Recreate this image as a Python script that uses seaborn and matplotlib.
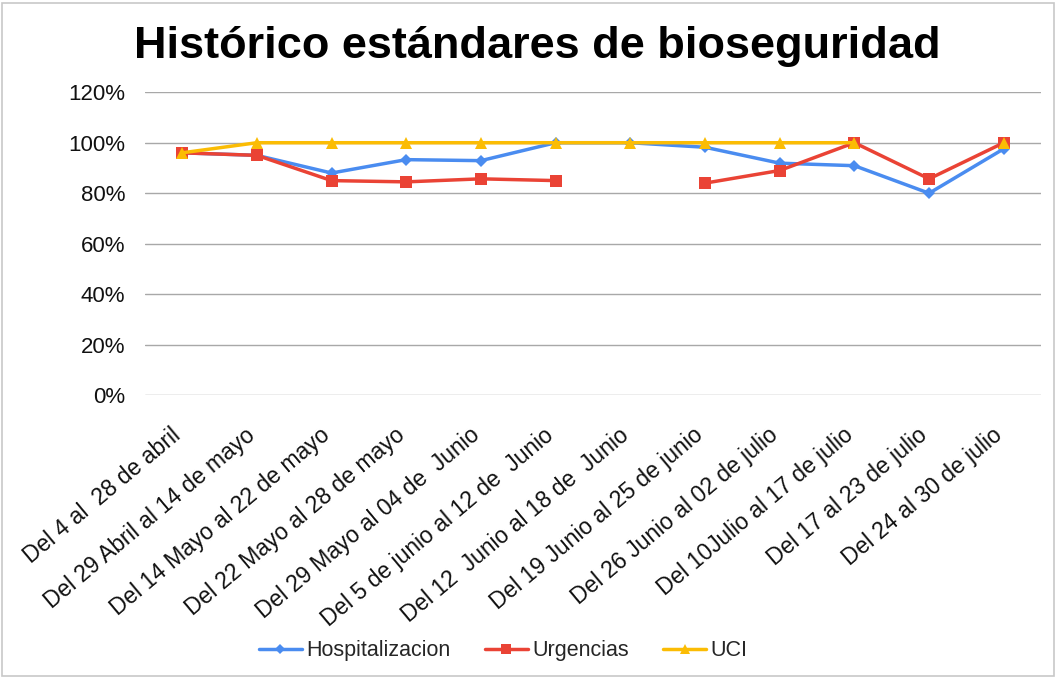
import numpy as np
import pandas as pd
import matplotlib
matplotlib.use("Agg")
import matplotlib.pyplot as plt
from matplotlib.patches import Rectangle
from matplotlib.lines import Line2D
from matplotlib.ticker import PercentFormatter
from matplotlib.transforms import ScaledTranslation
import seaborn as sns

categories = [
    "Del 4 al  28 de abril",
    "Del 29 Abril al 14 de mayo",
    "Del 14 Mayo al 22 de mayo",
    "Del 22 Mayo al 28 de mayo",
    "Del 29 Mayo al 04 de  Junio",
    "Del 5 de junio al 12 de  Junio",
    "Del 12  Junio al 18 de  Junio",
    "Del 19 Junio al 25 de junio",
    "Del 26 Junio al 02 de julio",
    "Del 10Julio al 17 de julio",
    "Del 17 al 23 de julio",
    "Del 24 al 30 de julio",
]
hospitalizacion = [96, 95, 88, 93.3, 92.9, 100, 100, 98.2, 91.9, 90.9, 80, 97.6]
urgencias = [96, 95, 85, 84.5, 85.7, 85, np.nan, 84, 89, 100, 85.7, 100]
uci = [96, 100, 100, 100, 100, 100, 100, 100, 100, 100, np.nan, 100]
yticks = [0, 20, 40, 60, 80, 100, 120]

sns.set_theme(style="white")
plt.rcParams["font.family"] = ["Liberation Sans", "DejaVu Sans"]

fig = plt.figure(figsize=(10.57, 6.78), dpi=100)
ax = fig.add_axes([0.137, 0.417, 0.848, 0.447])

series = [
    ("Hospitalizacion", hospitalizacion, "#4A8CF0", "D", 6),
    ("Urgencias", urgencias, "#EA4335", "s", 9),
    ("UCI", uci, "#FBBC04", "^", 9),
]
x = np.arange(len(categories))
handles = []
for name, vals, col, mk, ms in series:
    vals = np.asarray(vals, dtype=float)
    # split into segments at missing values so the line shows gaps
    seg = np.cumsum(np.isnan(vals))
    df = pd.DataFrame({"x": x, "y": vals, "seg": seg}).dropna()
    sns.lineplot(data=df, x="x", y="y", units="seg", estimator=None, ax=ax,
                 color=col, marker=mk, markersize=ms, markeredgewidth=0,
                 linewidth=2.5, legend=False)
    handles.append(Line2D([], [], color=col, marker=mk, markersize=ms * 0.8,
                          markeredgewidth=0, linewidth=2.5, label=name))

ax.set_xlim(-0.5, len(categories) - 0.5)
ax.set_ylim(0, 120)
ax.set_yticks(yticks)
ax.yaxis.set_major_formatter(PercentFormatter(decimals=0))
ax.set_xticks(x)
ax.set_xticklabels(categories, rotation=40, ha="right", rotation_mode="anchor",
                   fontsize=16.5, color="#111111")
ax.tick_params(axis="y", labelsize=16, pad=14, length=0, labelcolor="#111111")
ax.tick_params(axis="x", pad=16, length=0)
shift = ScaledTranslation(-12 / 100, -6 / 100, fig.dpi_scale_trans)
for lab in ax.get_xticklabels():
    lab.set_transform(lab.get_transform() + shift)
ax.grid(axis="y", color="#a8a8a8", linewidth=1)
ax.set_axisbelow(True)
for s in ax.spines.values():
    s.set_visible(False)
ax.set_xlabel("")
ax.set_ylabel("")

fig.text(0.508, 0.932, "Histórico estándares de bioseguridad", fontsize=32.5,
         fontweight="bold", ha="center", va="center", color="black")

fig.legend(handles=handles, loc="center", bbox_to_anchor=(0.476, 0.04), ncol=3,
           frameon=False, fontsize=15.5, handlelength=2.0, columnspacing=1.6,
           handletextpad=0.2)

fig.add_artist(Rectangle((0.002, 0.003), 0.995, 0.993, transform=fig.transFigure,
                         fill=False, edgecolor="#c8c8c8", linewidth=1.2))

fig.savefig("out.png", dpi=100)
